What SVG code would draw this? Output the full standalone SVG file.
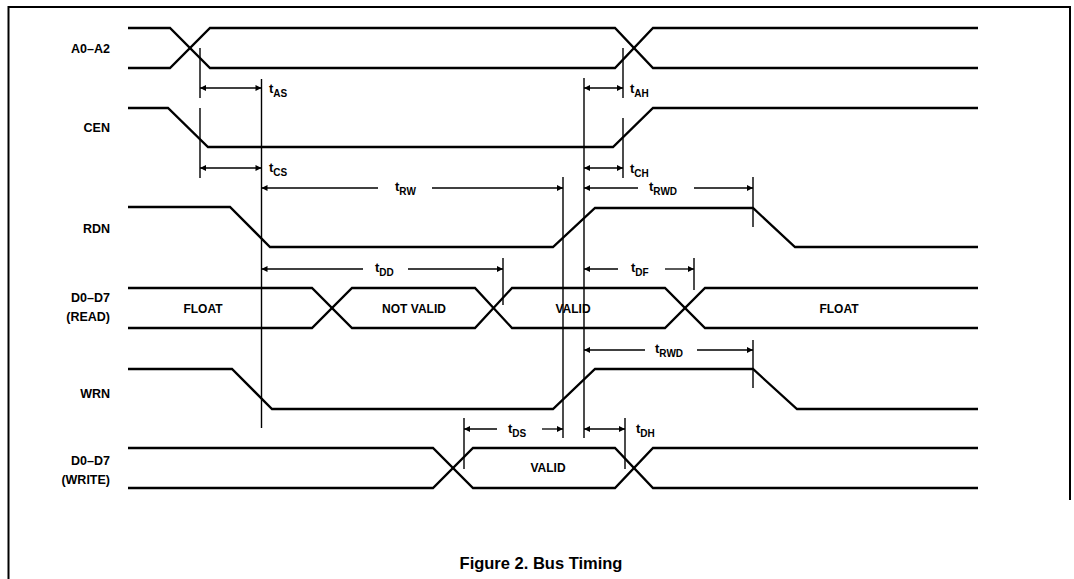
<svg xmlns="http://www.w3.org/2000/svg" width="1074" height="579" viewBox="0 0 1074 579">
<defs>
<marker id="ah" viewBox="0 0 10 10" refX="10" refY="5" markerWidth="9" markerHeight="6" markerUnits="userSpaceOnUse" orient="auto-start-reverse"><path d="M0,0 L10,5 L0,10 z" fill="#000"/></marker>
<style>
.sig{fill:none;stroke:#000;stroke-width:2.3;stroke-linejoin:miter}
.ref{fill:none;stroke:#000;stroke-width:1.4}
.dim{fill:none;stroke:#000;stroke-width:1.3}
.l{marker-start:url(#ah)}
.r{marker-end:url(#ah)}
.lbl{font-family:"Liberation Sans",Arial,sans-serif;font-weight:bold;font-size:12.5px;fill:#000;text-anchor:end}
.bus{font-family:"Liberation Sans",Arial,sans-serif;font-weight:bold;font-size:12px;fill:#000;text-anchor:middle}
.t{font-family:"Liberation Sans",Arial,sans-serif;font-weight:bold;font-size:13px;fill:#000}
.s{font-size:10px}
.cap{font-family:"Liberation Sans",Arial,sans-serif;font-weight:bold;font-size:16.5px;fill:#000;text-anchor:middle}
</style>
</defs>
<rect width="1074" height="579" fill="#fff"/>
<g id="frame" fill="none" stroke="#000" stroke-width="2">
<path d="M8.5,579 V7 H1070 V500"/>
</g>
<g id="A0A2">
<text class="lbl" x="110" y="53">A0–A2</text>
<polyline class="sig" points="128,28 170,28 210,68 615,68 653,28 978,28"/>
<polyline class="sig" points="128,68 170,68 210,28 615,28 653,68 978,68"/>
</g>
<g id="CEN">
<text class="lbl" x="110" y="132">CEN</text>
<polyline class="sig" points="128,108 168,108 208,147 613,147 653,108 978,108"/>
</g>
<g id="RDN">
<text class="lbl" x="110" y="233">RDN</text>
<polyline class="sig" points="128,207 230,207 270,247 553,247 595,208 753,208 795,247 978,247"/>
</g>
<g id="D_READ">
<text class="lbl" x="110" y="302">D0–D7</text>
<text class="lbl" x="110" y="321">(READ)</text>
<polyline class="sig" points="128,288 312,288 352,328 475,328 512,288 665,288 705,328 978,328"/>
<polyline class="sig" points="128,328 312,328 352,288 475,288 512,328 665,328 705,288 978,288"/>
<text class="bus" x="203" y="313">FLOAT</text>
<text class="bus" x="414" y="313">NOT VALID</text>
<text class="bus" x="573" y="313">VALID</text>
<text class="bus" x="839" y="313">FLOAT</text>
</g>
<g id="WRN">
<text class="lbl" x="110" y="398">WRN</text>
<polyline class="sig" points="128,369 232,369 272,409 553,409 595,369 753,369 797,409 978,409"/>
</g>
<g id="D_WRITE">
<text class="lbl" x="110" y="465">D0–D7</text>
<text class="lbl" x="110" y="484">(WRITE)</text>
<polyline class="sig" points="128,448 433,448 473,488 615,488 653,448 978,448"/>
<polyline class="sig" points="128,488 433,488 473,448 615,448 653,488 978,488"/>
<text class="bus" x="548" y="472">VALID</text>
</g>
<g id="connectors">
<path class="ref" d="M200,48 V98 M200,108 V178 M261.5,79 V428 M563,177 V438 M584,78 V438 M623,48 V98 M623,118 V178 M753,177 V227 M503,258 V305 M694,258 V290 M753,340 V388 M464,418 V469 M625,418 V469"/>
<line class="dim l r" x1="200" y1="88" x2="261.5" y2="88"/>
<line class="dim l r" x1="200" y1="168" x2="261.5" y2="168"/>
<line class="dim l r" x1="584" y1="88" x2="623" y2="88"/>
<line class="dim l r" x1="584" y1="168" x2="623" y2="168"/>
<line class="dim l" x1="261.5" y1="188" x2="378" y2="188"/>
<line class="dim r" x1="432" y1="188" x2="563" y2="188"/>
<line class="dim l" x1="584" y1="188" x2="638" y2="188"/>
<line class="dim r" x1="694" y1="188" x2="753" y2="188"/>
<line class="dim l" x1="261.5" y1="269" x2="363" y2="269"/>
<line class="dim r" x1="408" y1="269" x2="503" y2="269"/>
<line class="dim l" x1="584" y1="269" x2="618" y2="269"/>
<line class="dim r" x1="665" y1="269" x2="694" y2="269"/>
<line class="dim l" x1="584" y1="350" x2="645" y2="350"/>
<line class="dim r" x1="697" y1="350" x2="753" y2="350"/>
<line class="dim l" x1="464" y1="429" x2="497" y2="429"/>
<line class="dim r" x1="542" y1="429" x2="563" y2="429"/>
<line class="dim l r" x1="584" y1="429" x2="625" y2="429"/>
</g>
<g id="labels">
<text class="t" x="269" y="93">t<tspan class="s" dy="4">AS</tspan></text>
<text class="t" x="269" y="172">t<tspan class="s" dy="4">CS</tspan></text>
<text class="t" x="630" y="93">t<tspan class="s" dy="4">AH</tspan></text>
<text class="t" x="630" y="173">t<tspan class="s" dy="4">CH</tspan></text>
<text class="t" x="395" y="191">t<tspan class="s" dy="4">RW</tspan></text>
<text class="t" x="649" y="191">t<tspan class="s" dy="4">RWD</tspan></text>
<text class="t" x="375" y="272">t<tspan class="s" dy="4">DD</tspan></text>
<text class="t" x="631" y="272">t<tspan class="s" dy="4">DF</tspan></text>
<text class="t" x="655" y="353">t<tspan class="s" dy="4">RWD</tspan></text>
<text class="t" x="508" y="433">t<tspan class="s" dy="4">DS</tspan></text>
<text class="t" x="636" y="433">t<tspan class="s" dy="4">DH</tspan></text>
</g>
<g id="caption">
<text class="cap" x="541" y="569">Figure 2. Bus Timing</text>
</g>
</svg>
